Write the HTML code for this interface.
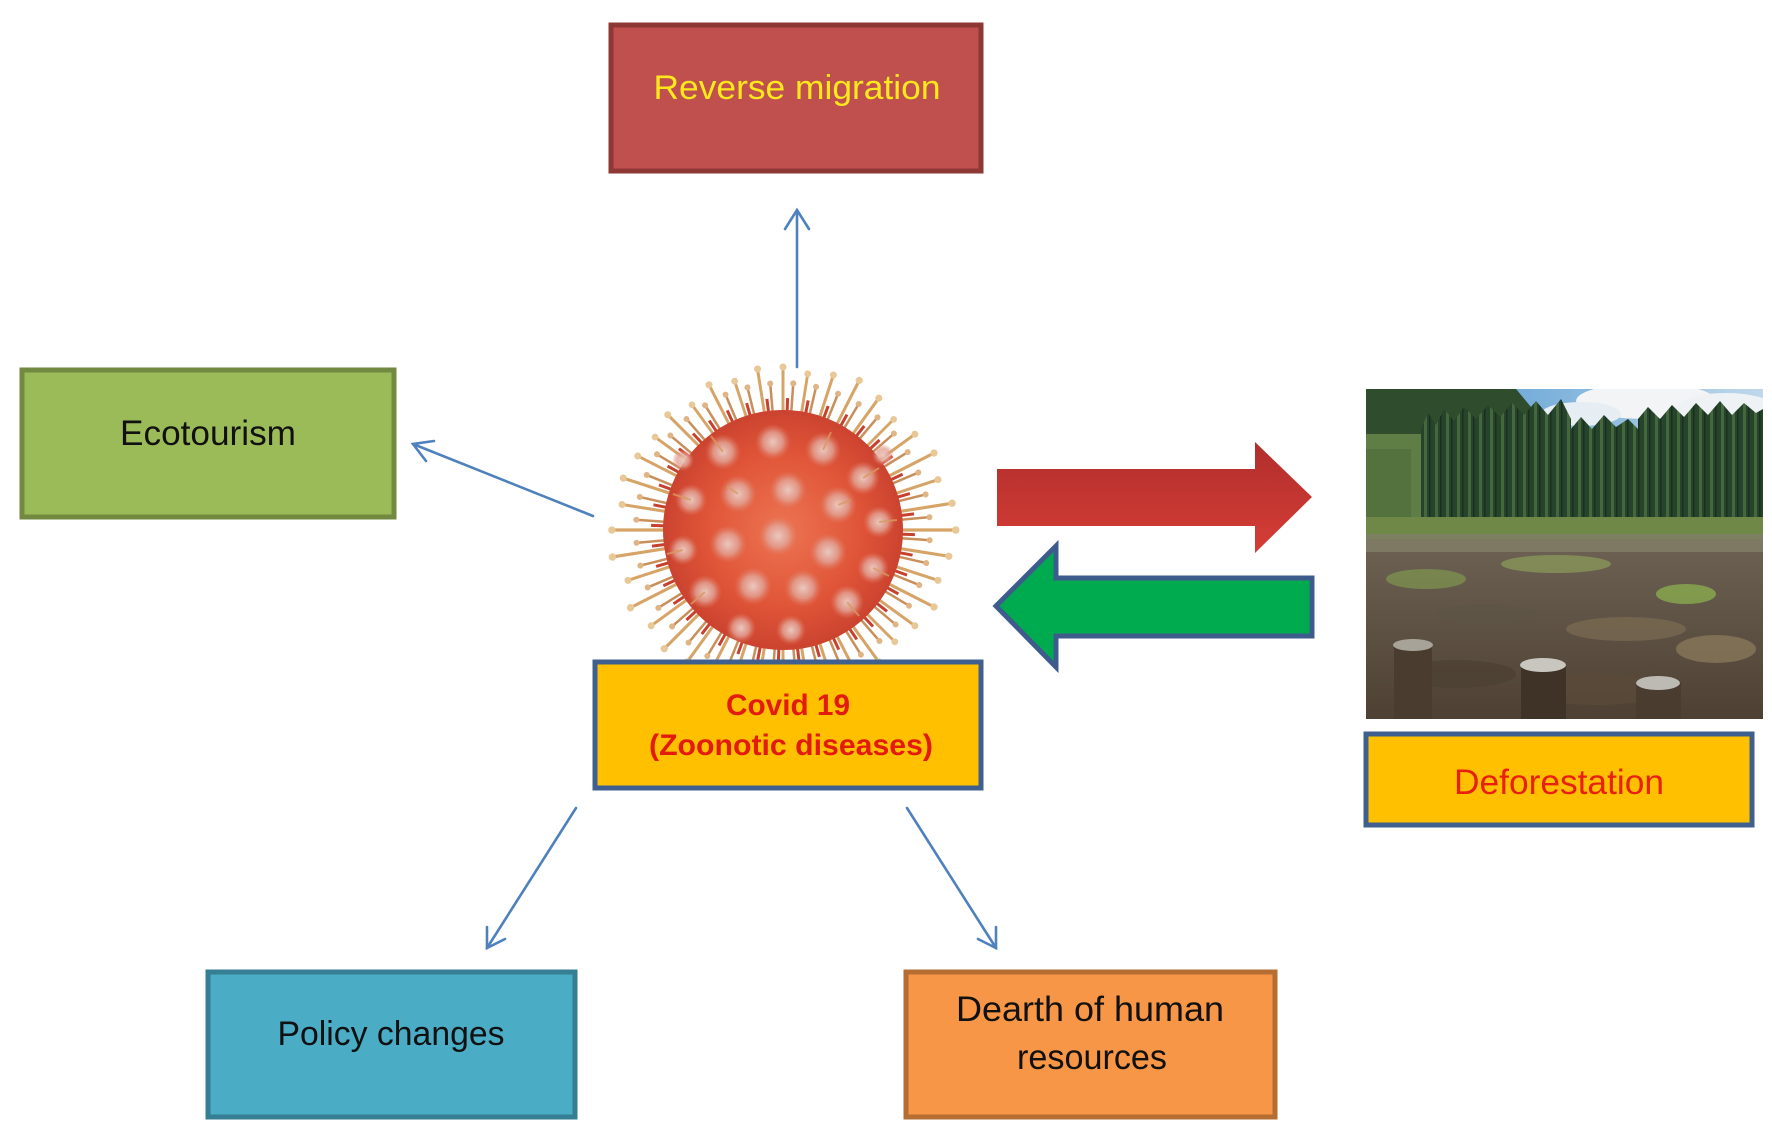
<!DOCTYPE html>
<html><head><meta charset="utf-8"><style>
html,body{margin:0;padding:0;background:#fff;}
svg{display:block;}
text{font-family:"Liberation Sans",Arial,sans-serif;}
</style></head><body>
<svg width="1772" height="1132" viewBox="0 0 1772 1132" xmlns="http://www.w3.org/2000/svg">
<defs>
  <linearGradient id="redArr" x1="0" y1="0" x2="0" y2="1">
    <stop offset="0" stop-color="#B02E2C"/><stop offset="1" stop-color="#D63D36"/>
  </linearGradient>
  <radialGradient id="body" cx="0.5" cy="0.5" r="0.55">
    <stop offset="0" stop-color="#EC7452"/><stop offset="0.6" stop-color="#E05538"/><stop offset="1" stop-color="#C8402E"/>
  </radialGradient>
  <radialGradient id="blob" cx="0.5" cy="0.5" r="0.5">
    <stop offset="0" stop-color="#EBC9C0"/><stop offset="0.55" stop-color="#E2A497" stop-opacity="0.8"/><stop offset="1" stop-color="#E07A62" stop-opacity="0"/>
  </radialGradient>
  <g id="sp">
    <line x1="0" y1="-112" x2="0" y2="-162" stroke="#D6A466" stroke-width="3"/>
    <circle cx="0" cy="-163" r="3.5" fill="#E8C896"/>
  </g>
  <g id="sp2">
    <line x1="0" y1="-108" x2="0" y2="-146" stroke="#C98F5A" stroke-width="2.5"/>
    <circle cx="0" cy="-147" r="3" fill="#E0B585"/>
  </g>
  <g id="sp3">
    <line x1="0" y1="-100" x2="0" y2="-132" stroke="#C8402E" stroke-width="3"/>
  </g>
  <pattern id="trees" x="0" y="0" width="11" height="200" patternUnits="userSpaceOnUse">
    <rect width="11" height="200" fill="#26432B"/>
    <rect x="3" width="3" height="200" fill="#44673C"/>
    <rect x="8" width="1.5" height="200" fill="#1A2F1E"/>
  </pattern>
  <linearGradient id="ground" x1="0" y1="0" x2="0" y2="1">
    <stop offset="0" stop-color="#7D7A6A"/><stop offset="0.5" stop-color="#6A5F50"/><stop offset="1" stop-color="#4E4134"/>
  </linearGradient>
  <linearGradient id="sky" x1="0" y1="0" x2="1" y2="0">
    <stop offset="0" stop-color="#6EA9D8"/><stop offset="1" stop-color="#BFD8EA"/>
  </linearGradient>
  <clipPath id="photoClip"><rect x="0" y="0" width="397" height="330"/></clipPath>
</defs>

<!-- Reverse migration -->
<rect x="611" y="25" width="370" height="146" fill="#C0504D" stroke="#8E3836" stroke-width="5"/>
<text x="797" y="99" font-size="34" fill="#FFE81C" text-anchor="middle" textLength="287" lengthAdjust="spacingAndGlyphs">Reverse migration</text>

<!-- Ecotourism -->
<rect x="22" y="370" width="372" height="147" fill="#9BBB59" stroke="#728A40" stroke-width="5"/>
<text x="208" y="445" font-size="35" fill="#111" text-anchor="middle" textLength="176" lengthAdjust="spacingAndGlyphs">Ecotourism</text>

<!-- Connectors -->
<g stroke="#4F81BD" stroke-width="2.6" fill="none" stroke-linecap="round">
  <line x1="797" y1="367" x2="797" y2="210"/>
  <polyline points="785,229 797,210 809,229"/>
  <line x1="593" y1="516" x2="413" y2="444"/>
  <polyline points="426,461 413,444 434,441"/>
  <line x1="576" y1="808" x2="487" y2="948"/>
  <polyline points="487,927 487,948 505,939"/>
  <line x1="907" y1="808" x2="996" y2="948"/>
  <polyline points="996,927 996,948 978,939"/>
</g>

<!-- Virus -->
<g transform="translate(783,530)">
  <use href="#sp2" transform="rotate(4)"/><use href="#sp2" transform="rotate(13)"/><use href="#sp2" transform="rotate(22)"/><use href="#sp2" transform="rotate(31)"/><use href="#sp2" transform="rotate(40)"/><use href="#sp2" transform="rotate(49)"/><use href="#sp2" transform="rotate(58)"/><use href="#sp2" transform="rotate(67)"/><use href="#sp2" transform="rotate(76)"/><use href="#sp2" transform="rotate(85)"/><use href="#sp2" transform="rotate(94)"/><use href="#sp2" transform="rotate(103)"/><use href="#sp2" transform="rotate(112)"/><use href="#sp2" transform="rotate(121)"/><use href="#sp2" transform="rotate(130)"/><use href="#sp2" transform="rotate(139)"/><use href="#sp2" transform="rotate(148)"/><use href="#sp2" transform="rotate(157)"/><use href="#sp2" transform="rotate(166)"/><use href="#sp2" transform="rotate(175)"/><use href="#sp2" transform="rotate(184)"/><use href="#sp2" transform="rotate(193)"/><use href="#sp2" transform="rotate(202)"/><use href="#sp2" transform="rotate(211)"/><use href="#sp2" transform="rotate(220)"/><use href="#sp2" transform="rotate(229)"/><use href="#sp2" transform="rotate(238)"/><use href="#sp2" transform="rotate(247)"/><use href="#sp2" transform="rotate(256)"/><use href="#sp2" transform="rotate(265)"/><use href="#sp2" transform="rotate(274)"/><use href="#sp2" transform="rotate(283)"/><use href="#sp2" transform="rotate(292)"/><use href="#sp2" transform="rotate(301)"/><use href="#sp2" transform="rotate(310)"/><use href="#sp2" transform="rotate(319)"/><use href="#sp2" transform="rotate(328)"/><use href="#sp2" transform="rotate(337)"/><use href="#sp2" transform="rotate(346)"/><use href="#sp2" transform="rotate(355)"/>
  <use href="#sp" transform="rotate(0)"/><use href="#sp" transform="rotate(9) scale(0.97)"/><use href="#sp" transform="rotate(18)"/><use href="#sp" transform="rotate(27) scale(1.03)"/><use href="#sp" transform="rotate(36)"/><use href="#sp" transform="rotate(45) scale(0.96)"/><use href="#sp" transform="rotate(54)"/><use href="#sp" transform="rotate(63) scale(1.04)"/><use href="#sp" transform="rotate(72)"/><use href="#sp" transform="rotate(81) scale(1.05)"/><use href="#sp" transform="rotate(90) scale(1.06)"/><use href="#sp" transform="rotate(99) scale(1.03)"/><use href="#sp" transform="rotate(108)"/><use href="#sp" transform="rotate(117) scale(1.04)"/><use href="#sp" transform="rotate(126)"/><use href="#sp" transform="rotate(135) scale(0.97)"/><use href="#sp" transform="rotate(144)"/><use href="#sp" transform="rotate(153)"/><use href="#sp" transform="rotate(162)"/><use href="#sp" transform="rotate(171)"/><use href="#sp" transform="rotate(180)"/><use href="#sp" transform="rotate(189)"/><use href="#sp" transform="rotate(198)"/><use href="#sp" transform="rotate(207)"/><use href="#sp" transform="rotate(216)"/><use href="#sp" transform="rotate(225) scale(1.03)"/><use href="#sp" transform="rotate(234)"/><use href="#sp" transform="rotate(243) scale(1.05)"/><use href="#sp" transform="rotate(252)"/><use href="#sp" transform="rotate(261) scale(1.06)"/><use href="#sp" transform="rotate(270) scale(1.05)"/><use href="#sp" transform="rotate(279)"/><use href="#sp" transform="rotate(288) scale(1.03)"/><use href="#sp" transform="rotate(297)"/><use href="#sp" transform="rotate(306) scale(0.97)"/><use href="#sp" transform="rotate(315)"/><use href="#sp" transform="rotate(324) scale(0.95)"/><use href="#sp" transform="rotate(333)"/><use href="#sp" transform="rotate(342) scale(0.96)"/><use href="#sp" transform="rotate(351)"/>
  <use href="#sp3" transform="rotate(2)"/><use href="#sp3" transform="rotate(11)"/><use href="#sp3" transform="rotate(20)"/><use href="#sp3" transform="rotate(29)"/><use href="#sp3" transform="rotate(38)"/><use href="#sp3" transform="rotate(47)"/><use href="#sp3" transform="rotate(56)"/><use href="#sp3" transform="rotate(65)"/><use href="#sp3" transform="rotate(74)"/><use href="#sp3" transform="rotate(83)"/><use href="#sp3" transform="rotate(92)"/><use href="#sp3" transform="rotate(101)"/><use href="#sp3" transform="rotate(110)"/><use href="#sp3" transform="rotate(119)"/><use href="#sp3" transform="rotate(128)"/><use href="#sp3" transform="rotate(137)"/><use href="#sp3" transform="rotate(146)"/><use href="#sp3" transform="rotate(155)"/><use href="#sp3" transform="rotate(164)"/><use href="#sp3" transform="rotate(173)"/><use href="#sp3" transform="rotate(182)"/><use href="#sp3" transform="rotate(191)"/><use href="#sp3" transform="rotate(200)"/><use href="#sp3" transform="rotate(209)"/><use href="#sp3" transform="rotate(218)"/><use href="#sp3" transform="rotate(227)"/><use href="#sp3" transform="rotate(236)"/><use href="#sp3" transform="rotate(245)"/><use href="#sp3" transform="rotate(254)"/><use href="#sp3" transform="rotate(263)"/><use href="#sp3" transform="rotate(272)"/><use href="#sp3" transform="rotate(281)"/><use href="#sp3" transform="rotate(290)"/><use href="#sp3" transform="rotate(299)"/><use href="#sp3" transform="rotate(308)"/><use href="#sp3" transform="rotate(317)"/><use href="#sp3" transform="rotate(326)"/><use href="#sp3" transform="rotate(335)"/><use href="#sp3" transform="rotate(344)"/><use href="#sp3" transform="rotate(353)"/>
  <circle r="120" fill="#CC4430"/>
  <circle r="116" fill="url(#body)"/>
  <g fill="url(#blob)">
    <circle cx="-60" cy="-78" r="18"/><circle cx="-10" cy="-88" r="18"/><circle cx="40" cy="-80" r="18"/><circle cx="80" cy="-52" r="17"/>
    <circle cx="-92" cy="-30" r="16"/><circle cx="-45" cy="-36" r="19"/><circle cx="5" cy="-40" r="19"/><circle cx="55" cy="-25" r="19"/><circle cx="96" cy="-8" r="16"/>
    <circle cx="-100" cy="20" r="15"/><circle cx="-55" cy="14" r="19"/><circle cx="-5" cy="6" r="20"/><circle cx="45" cy="22" r="19"/><circle cx="90" cy="38" r="16"/>
    <circle cx="-78" cy="62" r="17"/><circle cx="-30" cy="56" r="19"/><circle cx="20" cy="58" r="19"/><circle cx="64" cy="72" r="17"/>
    <circle cx="-42" cy="98" r="15"/><circle cx="8" cy="100" r="15"/><circle cx="-100" cy="-70" r="11"/><circle cx="100" cy="-75" r="11"/>
  </g>
  <g stroke="#D89A60" stroke-width="2" opacity="0.8">
    <line x1="-60" y1="-78" x2="-72" y2="-94"/><line x1="40" y1="-80" x2="48" y2="-98"/><line x1="80" y1="-52" x2="96" y2="-62"/>
    <line x1="-92" y1="-30" x2="-110" y2="-36"/><line x1="96" y1="-8" x2="114" y2="-10"/><line x1="-100" y1="20" x2="-116" y2="24"/>
    <line x1="90" y1="38" x2="106" y2="46"/><line x1="-78" y1="62" x2="-92" y2="74"/><line x1="64" y1="72" x2="76" y2="86"/>
    <line x1="55" y1="-25" x2="68" y2="-30"/><line x1="-45" y1="-36" x2="-56" y2="-44"/>
  </g>
</g>

<!-- Covid box -->
<rect x="595" y="662" width="386" height="126" fill="#FFC000" stroke="#3F5F8F" stroke-width="5"/>
<text x="788" y="715" font-size="30" font-weight="bold" fill="#E31A0E" text-anchor="middle" textLength="124" lengthAdjust="spacingAndGlyphs">Covid 19</text>
<text x="791" y="755" font-size="30" font-weight="bold" fill="#E31A0E" text-anchor="middle" textLength="284" lengthAdjust="spacingAndGlyphs">(Zoonotic diseases)</text>

<!-- Block arrows -->
<polygon points="997,469 1255,469 1255,442 1312,497 1255,553 1255,526 997,526" fill="url(#redArr)"/>
<polygon points="996,606 1056,546 1056,578 1312,578 1312,636 1056,636 1056,667" fill="#00AB50" stroke="#3D5C8C" stroke-width="5" stroke-linejoin="miter"/>

<!-- Deforestation photo -->
<g transform="translate(1366,389)">
  <g clip-path="url(#photoClip)">
    <rect width="397" height="330" fill="url(#ground)"/>
    <rect x="130" y="0" width="267" height="60" fill="url(#sky)"/>
    <ellipse cx="280" cy="12" rx="70" ry="18" fill="#F2F4F6"/>
    <ellipse cx="360" cy="20" rx="50" ry="16" fill="#EEF2F5"/>
    <ellipse cx="215" cy="25" rx="40" ry="12" fill="#E6EEF3"/>
    <path d="M0,0 L150,0 L175,30 L190,60 L0,60 Z" fill="#2F4C2C"/>
    <path d="M0,45 L70,45 L70,140 L0,140 Z" fill="#5F7E45"/>
    <path d="M55,40 L62,24 L70,36 L78,20 L88,32 L98,18 L110,30 L122,16 L134,28 L146,14 L158,26 L170,12 L182,26 L195,10 L205,30 L205,146 L55,146 Z" fill="url(#trees)"/>
    <path d="M205,40 L215,28 L226,40 L238,26 L250,38 L262,30 L272,40 L272,146 L205,146 Z" fill="url(#trees)"/>
    <path d="M272,30 L282,18 L294,30 L306,16 L318,28 L330,14 L342,26 L354,12 L366,26 L378,14 L390,24 L397,20 L397,146 L272,146 Z" fill="url(#trees)"/>
    <rect x="0" y="60" width="45" height="70" fill="#4F6E3C" opacity="0.7"/>
    <rect x="0" y="128" width="397" height="22" fill="#6F8848"/>
    <rect x="0" y="145" width="397" height="18" fill="#828068" opacity="0.8"/>
    <g opacity="0.75">
      <ellipse cx="60" cy="190" rx="40" ry="10" fill="#7E9350"/>
      <ellipse cx="190" cy="175" rx="55" ry="9" fill="#8A9A5A"/>
      <ellipse cx="320" cy="205" rx="30" ry="10" fill="#8CB04E"/>
      <ellipse cx="120" cy="225" rx="50" ry="10" fill="#5E5546"/>
      <ellipse cx="260" cy="240" rx="60" ry="12" fill="#7A6A52"/>
      <ellipse cx="350" cy="260" rx="40" ry="14" fill="#8A7A5C"/>
      <ellipse cx="90" cy="285" rx="60" ry="14" fill="#4C4033"/>
      <ellipse cx="230" cy="300" rx="70" ry="16" fill="#5A4A38"/>
    </g>
    <rect x="28" y="255" width="38" height="75" fill="#4A3C2E"/>
    <ellipse cx="47" cy="256" rx="20" ry="6" fill="#A8A398"/>
    <rect x="155" y="275" width="45" height="55" fill="#3F3226"/>
    <ellipse cx="177" cy="276" rx="23" ry="7" fill="#C9C6C0"/>
    <rect x="270" y="293" width="45" height="37" fill="#4A3D30"/>
    <ellipse cx="292" cy="294" rx="22" ry="7" fill="#BDBAB3"/>
  </g>
</g>

<!-- Deforestation box -->
<rect x="1366" y="734" width="386" height="91" fill="#FFC000" stroke="#3F5F8F" stroke-width="5"/>
<text x="1559" y="794" font-size="35" fill="#E8200F" text-anchor="middle" textLength="210" lengthAdjust="spacingAndGlyphs">Deforestation</text>

<!-- Policy changes -->
<rect x="208" y="972" width="367" height="145" fill="#4BACC6" stroke="#357E93" stroke-width="5"/>
<text x="391" y="1045" font-size="34" fill="#111" text-anchor="middle" textLength="227" lengthAdjust="spacingAndGlyphs">Policy changes</text>

<!-- Dearth of human resources -->
<rect x="906" y="972" width="369" height="145" fill="#F79646" stroke="#B66D31" stroke-width="5"/>
<text x="1090" y="1021" font-size="35" fill="#111" text-anchor="middle" textLength="268" lengthAdjust="spacingAndGlyphs">Dearth of human</text>
<text x="1092" y="1069" font-size="35" fill="#111" text-anchor="middle" textLength="150" lengthAdjust="spacingAndGlyphs">resources</text>
</svg>
</body></html>
